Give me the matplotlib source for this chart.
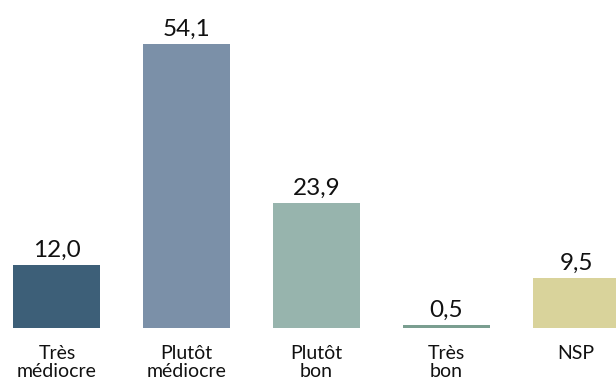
import matplotlib.pyplot as plt

categories = ['Très\nmédiocre', 'Plutôt\nmédiocre', 'Plutôt\nbon', 'Très\nbon', 'NSP']
values = [12.0, 54.1, 23.9, 0.5, 9.5]
labels = ['12,0', '54,1', '23,9', '0,5', '9,5']
colors = ['#3d5f78', '#7b90a8', '#97b4ad', '#7a9e90', '#d9d39b']

plt.rcParams['font.family'] = ['Lato', 'DejaVu Sans']

fig = plt.figure(figsize=(6.16, 3.88), dpi=100)
ax = fig.add_axes([0, 0, 1, 1])
x = range(len(values))
bars = ax.bar(x, values, width=0.67, color=colors)

for xi, v, lab in zip(x, values, labels):
    ax.annotate(lab, (xi, v), xytext=(0, 3), textcoords='offset points',
                ha='center', va='bottom', fontsize=17.5, color='#111111')
for xi, cat in zip(x, categories):
    ax.annotate(cat, (xi, 0), xytext=(0, -12.5), textcoords='offset points',
                ha='center', va='top', fontsize=14, color='#111111',
                linespacing=1.05)

ax.set_xlim(-0.439, 4.308)
ax.set_ylim(-11.43, 62.48)
ax.axis('off')

fig.savefig('out.png', dpi=100)
